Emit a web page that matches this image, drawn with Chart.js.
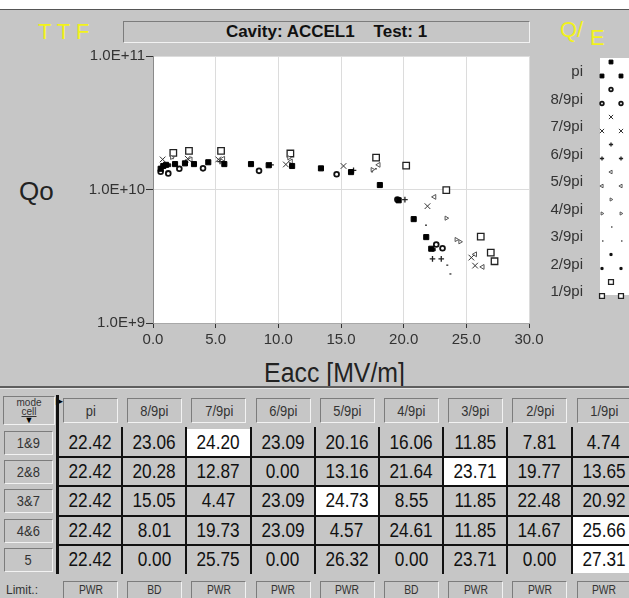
<!DOCTYPE html>
<html>
<head>
<meta charset="utf-8">
<script src="https://cdn.jsdelivr.net/npm/chart.js@4.4.0/dist/chart.umd.min.js"></script>
<style>
body { margin:0; width:629px; height:598px; overflow:hidden; background:#c6c6c6; font-family:"Liberation Sans", Arial, sans-serif; position:relative; }
.abs { position:absolute; }
.sunk { border:1px solid; border-color:#7c7c7c #f2f2f2 #f2f2f2 #7c7c7c; box-sizing:border-box; }
.sq { display:inline-block; transform:scaleX(0.86); transform-origin:center; }
#chart { position:absolute; left:0; top:0; }
</style>
</head>
<body>
<div class="abs" style="left:0;top:0;width:629px;height:9px;background:#fff;border-bottom:1px solid #555;"></div>
<div class="abs" style="left:38px;top:19px;font-size:22px;line-height:26px;color:#f2f21a;white-space:pre;">T T F</div>
<div class="abs sunk" style="left:123px;top:21px;width:407px;height:22px;text-align:center;font-weight:bold;font-size:17px;line-height:20px;color:#111;white-space:pre;">Cavity: ACCEL1    Test: 1</div>
<div class="abs" style="left:560px;top:17px;font-size:22px;line-height:26px;color:#f2f21a;">Q/</div>
<div class="abs" style="left:590px;top:25px;font-size:22px;line-height:26px;color:#f2f21a;">E</div>
<div class="abs" style="left:19px;top:176px;font-size:26px;line-height:30px;color:#222;">Qo</div>
<div class="abs" style="left:235px;top:357px;width:200px;text-align:center;font-size:27px;line-height:32px;color:#222;"><span class="sq" style="transform:scaleX(0.92)">Eacc [MV/m]</span></div>
<canvas id="chart" width="629" height="352"></canvas>
<div id="table"></div>
<script>
// Qo vs Eacc per mode
const modes = ['pi', '8/9pi', '7/9pi', '6/9pi', '5/9pi', '4/9pi', '3/9pi', '2/9pi', '1/9pi'];

const eaccPi = [0.61, 0.82, 1.04, 1.76, 2.55, 3.27, 4.41, 5.69, 7.82, 9.23, 11.1, 13.4, 15.8, 18.1, 19.6, 20.8, 21.8, 22.2];
const qoPi = [1.43e10, 1.50e10, 1.53e10, 1.55e10, 1.57e10, 1.55e10, 1.60e10, 1.55e10, 1.55e10, 1.52e10, 1.50e10, 1.44e10, 1.35e10, 1.08e10, 8.3e9, 6.0e9, 4.4e9, 3.6e9];

const eacc89 = [0.61, 1.22, 2.1, 3.99, 8.46, 14.65, 19.5, 22.6, 23.1];
const qo89 = [1.36e10, 1.32e10, 1.43e10, 1.44e10, 1.38e10, 1.30e10, 8.4e9, 3.87e9, 3.63e9];

const eacc79 = [0.77, 2.77, 5.21, 10.6, 15.2, 21.9, 25.4, 25.7];
const qo79 = [1.68e10, 1.70e10, 1.68e10, 1.54e10, 1.50e10, 7.5e9, 3.09e9, 2.69e9];

const eacc69 = [2.6, 5.35, 9.42, 16.0, 20.1, 22.3, 23.0];
const qo69 = [1.60e10, 1.62e10, 1.53e10, 1.39e10, 8.4e9, 3.02e9, 3.02e9];

const eacc59 = [3.0, 5.6, 11.0, 18.0, 22.45, 25.7, 26.3];
const qo59 = [1.68e10, 1.70e10, 1.62e10, 1.53e10, 8.8e9, 3.27e9, 2.63e9];

const eacc49 = [1.5, 10.85, 17.5, 23.4, 24.2, 24.5];
const qo49 = [1.74e10, 1.73e10, 1.41e10, 6.1e9, 4.22e9, 4.06e9];

const eacc39 = [1.5, 17.4, 17.7, 21.7, 23.4, 23.65];
const qo39 = [1.71e10, 1.36e10, 1.43e10, 5.4e9, 2.71e9, 2.33e9];

const eacc29 = [0.65, 1.3, 22.4];
const qo29 = [1.46e10, 1.52e10, 3.55e9];

const eacc19 = [1.62, 2.87, 5.43, 10.96, 17.8, 20.2, 23.4, 26.15, 26.95, 27.25];
const qo19 = [1.88e10, 1.95e10, 1.95e10, 1.86e10, 1.73e10, 1.51e10, 9.9e9, 4.43e9, 3.37e9, 2.9e9];

const yTicks = [1e9, 1e10, 1e11];

// max gradient table
const cellNames = ['1&9', '2&8', '3&7', '4&6', '5'];
const gradRow19 = ['22.42', '23.06', '24.20', '23.09', '20.16', '16.06', '11.85', '7.81', '4.74'];
const gradRow28 = ['22.42', '20.28', '12.87', '0.00', '13.16', '21.64', '23.71', '19.77', '13.65'];
const gradRow37 = ['22.42', '15.05', '4.47', '23.09', '24.73', '8.55', '11.85', '22.48', '20.92'];
const gradRow46 = ['22.42', '8.01', '19.73', '23.09', '4.57', '24.61', '11.85', '14.67', '25.66'];
const gradRow5 = ['22.42', '0.00', '25.75', '0.00', '26.32', '0.00', '23.71', '0.00', '27.31'];
const limits = ['PWR', 'BD', 'PWR', 'PWR', 'PWR', 'BD', 'PWR', 'PWR', 'PWR'];
const highlighted = [[0, 2], [1, 6], [2, 4], [3, 8], [4, 8]];

function pts(xs, ys) {
    return xs.map((x, i) => ({ x: x, y: ys[i] }));
}

const fontFam = '"Liberation Sans", Arial, sans-serif';

const datasets = [
    { label: modes[0], data: pts(eaccPi, qoPi), pointStyle: 'rect', pointRadius: 3.6, backgroundColor: '#000', borderColor: '#000', borderWidth: 1 },
    { label: modes[1], data: pts(eacc89, qo89), pointStyle: 'circle', pointRadius: 2.4, backgroundColor: '#fff', borderColor: '#111', borderWidth: 1.8 },
    { label: modes[2], data: pts(eacc79, qo79), pointStyle: 'crossRot', pointRadius: 4, backgroundColor: '#333', borderColor: '#333', borderWidth: 1 },
    { label: modes[3], data: pts(eacc69, qo69), pointStyle: 'cross', pointRadius: 2.8, backgroundColor: '#222', borderColor: '#222', borderWidth: 1.3 },
    { label: modes[4], data: pts(eacc59, qo59), pointStyle: 'triangle', pointRotation: 270, pointRadius: 2.8, backgroundColor: '#fff', borderColor: '#555', borderWidth: 1 },
    { label: modes[5], data: pts(eacc49, qo49), pointStyle: 'triangle', pointRotation: 90, pointRadius: 2.4, backgroundColor: '#fff', borderColor: '#555', borderWidth: 1 },
    { label: modes[6], data: pts(eacc39, qo39), pointStyle: 'dash', pointRadius: 2, backgroundColor: '#555', borderColor: '#555', borderWidth: 1.6 },
    { label: modes[7], data: pts(eacc29, qo29), pointStyle: 'rect', pointRadius: 2, backgroundColor: '#111', borderColor: '#111', borderWidth: 1 },
    { label: modes[8], data: pts(eacc19, qo19), pointStyle: 'rect', pointRadius: 4.6, backgroundColor: '#fff', borderColor: '#222', borderWidth: 1.3 }
];
datasets.forEach(d => { d.showLine = false; d.pointHoverRadius = d.pointRadius; });

const plotBg = {
    id: 'plotBg',
    beforeDraw(chart) {
        const a = chart.chartArea;
        const ctx = chart.ctx;
        ctx.save();
        ctx.fillStyle = '#fff';
        ctx.fillRect(a.left, a.top, a.right - a.left, a.bottom - a.top);
        ctx.restore();
    }
};

// legend box at the right: labels plus a sample of each marker
const modeLegend = {
    id: 'modeLegend',
    afterDraw(chart) {
        const ctx = chart.ctx;
        ctx.save();
        ctx.fillStyle = '#fff';
        ctx.fillRect(600, 58, 29, 237);
        chart.data.datasets.forEach((ds, i) => {
            const y = 72 + i * 27.5;
            ctx.fillStyle = '#333';
            ctx.font = '15px ' + fontFam;
            ctx.textAlign = 'right';
            ctx.textBaseline = 'middle';
            ctx.fillText(ds.label, 583, y);
            const opts = { pointStyle: ds.pointStyle, radius: ds.pointRadius * 0.75, rotation: ds.pointRotation || 0, borderWidth: ds.borderWidth };
            [[611, y - 10], [602, y + 4], [621, y + 4]].forEach(p => {
                ctx.fillStyle = ds.backgroundColor;
                ctx.strokeStyle = ds.borderColor;
                ctx.lineWidth = ds.borderWidth;
                Chart.helpers.drawPoint(ctx, opts, p[0], p[1]);
            });
        });
        ctx.restore();
    }
};

new Chart(document.getElementById('chart'), {
    type: 'scatter',
    data: { datasets: datasets },
    options: {
        responsive: false,
        animation: false,
        devicePixelRatio: 1,
        layout: { padding: { left: 0, top: 56, right: 100, bottom: 0 } },
        plugins: { legend: { display: false }, tooltip: { enabled: false } },
        scales: {
            x: {
                type: 'linear', min: 0, max: 30,
                afterFit: s => { s.height = 29; },
                ticks: { stepSize: 5, maxRotation: 0, padding: 3, color: '#333', font: { size: 15, family: fontFam }, callback: v => v.toFixed(1) },
                grid: { color: '#dcdcdc', tickColor: '#333', tickLength: 5 },
                border: { color: '#a8a8a8' }
            },
            y: {
                type: 'logarithmic', min: 1e9, max: 1e11,
                afterBuildTicks: s => { s.ticks = yTicks.map(v => ({ value: v, major: true })); },
                afterFit: s => { s.width = 153; },
                ticks: { padding: 1, color: '#333', font: { size: 15, family: fontFam }, callback: v => '1.0E+' + Math.round(Math.log10(v)) },
                grid: { color: '#dcdcdc', tickColor: '#333', tickLength: 7 },
                border: { color: '#8a8a8a' }
            }
        }
    },
    plugins: [plotBg, modeLegend]
});

// table of cell gradients
const gradRows = [gradRow19, gradRow28, gradRow37, gradRow46, gradRow5];
const tbl = document.getElementById('table');
function add(html) { tbl.insertAdjacentHTML('beforeend', html); }

add('<div class="abs" style="left:0;top:386px;width:629px;height:2px;background:#5e5e5e;"></div>');
add('<div class="abs" style="left:0;top:388px;width:629px;height:1px;background:#e6e6e6;"></div>');

// mode / cell corner box
add('<div class="abs sunk" style="left:3px;top:396px;width:52px;height:29px;text-align:center;font-size:10px;line-height:9px;color:#333;">' +
    '<div style="margin-top:1px">mode</div><div style="text-decoration:underline">cell</div>' +
    '<div style="font-size:9px;line-height:8px;color:#000">&#9660;</div></div>');
add('<div class="abs" style="left:56px;top:397px;font-size:9px;line-height:9px;color:#000;">&#9654;</div>');

const colW = 64.2;
const rowH = 29.2;
modes.forEach((m, i) => {
    const x0 = 58 + i * colW;
    add('<div class="abs sunk" style="left:' + (x0 + 5) + 'px;top:398px;width:55px;height:25px;text-align:center;font-size:15px;line-height:23px;color:#333;"><span class="sq">' + m + '</span></div>');
    add('<div class="abs sunk" style="left:' + (x0 + 5) + 'px;top:581px;width:55px;height:22px;text-align:center;font-size:12px;line-height:17px;color:#333;"><span class="sq">' + limits[i] + '</span></div>');
});
add('<div class="abs" style="left:6px;top:582px;font-size:12px;line-height:17px;color:#333;">Limit.:</div>');

highlighted.forEach(h => {
    const x0 = 58 + h[1] * colW;
    const y0 = 428 + h[0] * rowH;
    add('<div class="abs" style="left:' + (x0 + 1) + 'px;top:' + (y0 + 1) + 'px;width:' + (colW - 2) + 'px;height:' + (rowH - 2) + 'px;background:#fff;"></div>');
});

cellNames.forEach((c, r) => {
    const y0 = 428 + r * rowH;
    add('<div class="abs sunk" style="left:4px;top:' + (y0 + 3) + 'px;width:49px;height:24px;text-align:center;font-size:15px;line-height:22px;color:#333;"><span class="sq">' + c + '</span></div>');
    gradRows[r].forEach((v, i) => {
        const x0 = 58 + i * colW;
        add('<div class="abs" style="left:' + x0 + 'px;top:' + y0 + 'px;width:' + colW + 'px;height:' + rowH + 'px;text-align:center;font-size:20px;line-height:' + rowH + 'px;color:#111;"><span class="sq">' + v + '</span></div>');
    });
});

// grid lines of the table
for (let r = 1; r < cellNames.length; r++) {
    add('<div class="abs" style="left:58px;top:' + (428 + r * rowH - 1) + 'px;width:580px;height:2px;background:#111;"></div>');
}
add('<div class="abs" style="left:56px;top:395px;width:3px;height:179px;background:#111;"></div>');
for (let i = 1; i < modes.length; i++) {
    add('<div class="abs" style="left:' + (58 + i * colW - 1) + 'px;top:427px;width:2px;height:147px;background:#111;"></div>');
}
</script>
</body>
</html>
